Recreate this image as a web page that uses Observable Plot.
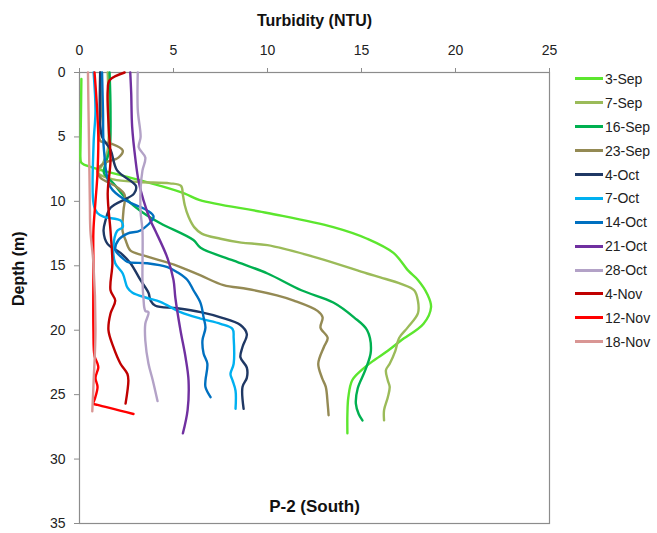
<!DOCTYPE html>
<html>
<head>
<meta charset="utf-8">
<script src="https://cdn.jsdelivr.net/npm/d3@7"></script>
<script src="https://cdn.jsdelivr.net/npm/@observablehq/plot@0.6"></script>
<style>
  html, body { margin: 0; padding: 0; background: #fff; }
  #wrap { position: relative; width: 657px; height: 533px; font-family: "Liberation Sans", Arial, sans-serif; }
  #legend { position: absolute; left: 575px; top: 67px; }
  .li { height: 23.9px; display: flex; align-items: center; font-size: 14px; color: #222; }
  .sw { width: 28px; height: 0; border-top: 3px solid; margin-right: 2px; }
</style>
</head>
<body>
<div id="wrap"><div id="legend"></div></div>
<script>
// Series names and colours
const seriesNames = ["3-Sep","7-Sep","16-Sep","23-Sep","4-Oct","7-Oct","14-Oct","21-Oct","28-Oct","4-Nov","12-Nov","18-Nov"];
const seriesColors = ["#5CE62E","#9BBB59","#00B050","#948A54","#1F3864","#00B0F0","#0070C0","#7030A0","#B3A2C7","#C00000","#FF0000","#D99694"];
const xTicks = [0,5,10,15,20,25];
const yTicks = [0,5,10,15,20,25,30,35];

// Profiles: [depth (m), turbidity (NTU)]
const sep3 = [[0.5,0.1],[3,0.08],[6,0.05],[6.6,0.05],[7.0,0.1],[7.4,0.75],[8.1,2.55],[8.8,4.3],[9.4,5.6],[9.9,6.4],[10.9,10.0],[12.0,13.5],[12.9,15.3],[14.0,16.7],[15.4,17.5],[16.1,18.0],[17.2,18.5],[18.2,18.7],[19.5,18.3],[20.8,17.1],[21.6,16.4],[22.4,15.6],[23.1,15.0],[23.9,14.5],[25.2,14.3],[26.5,14.25],[28.0,14.25]];
const sep7 = [[0,1.5],[3,1.55],[6,1.5],[7.2,1.2],[7.8,1.0],[8.3,1.8],[8.5,3.2],[8.6,4.8],[8.8,5.4],[9.5,5.5],[10.3,5.6],[11.2,5.8],[12.0,6.1],[12.5,6.5],[12.9,7.5],[13.2,8.6],[13.4,10.0],[14.4,12.7],[15.6,15.3],[15.9,16.0],[16.4,17.1],[16.9,17.8],[17.7,18.0],[18.7,18.0],[19.8,17.45],[20.6,17.0],[21.6,16.8],[22.6,16.5],[23.1,16.3],[23.9,16.4],[24.4,16.5],[25.2,16.4],[26.2,16.2],[27.0,16.2]];
const sep16 = [[0,1.6],[3,1.65],[6,1.6],[7.0,1.4],[7.8,1.3],[8.6,1.8],[9.9,2.55],[10.9,3.4],[11.7,4.3],[13.0,6.06],[13.6,6.44],[14.6,8.2],[15.6,10.0],[16.9,11.8],[17.85,13.5],[19.0,14.6],[20.0,15.3],[21.6,15.5],[23.1,15.2],[24.5,14.8],[25.7,14.7],[26.5,14.85],[27.0,15.05]];
const sep23 = [[0,1.1],[3,1.15],[5.3,1.1],[5.5,1.65],[6.05,2.3],[6.6,2.07],[7.06,1.28],[7.6,0.96],[8.15,1.1],[8.9,2.0],[9.5,2.4],[10.7,2.34],[12.3,2.29],[13.0,2.45],[13.8,2.7],[14.2,3.4],[15.0,5.2],[15.75,6.44],[16.5,7.66],[16.8,8.94],[17.3,10.5],[17.7,11.4],[18.5,12.66],[19.0,12.93],[19.8,12.82],[20.6,13.2],[21.3,13.0],[22.6,12.7],[23.7,12.9],[24.4,13.1],[25.7,13.2],[26.6,13.25]];
const oct4 = [[0,1.1],[4,1.1],[5.0,1.2],[6.0,1.65],[7.6,2.0],[8.8,3.0],[9.4,2.9],[10.5,1.65],[11.5,1.38],[12.3,1.28],[13.3,1.49],[14.0,2.18],[14.8,2.71],[16.1,3.24],[17.1,3.67],[17.7,3.78],[18.1,4.04],[18.3,5.2],[18.6,6.44],[19.0,7.5],[19.6,8.56],[20.3,8.9],[21.3,8.67],[22.1,8.56],[22.9,8.9],[23.7,8.9],[24.4,8.67],[26.1,8.73]];
const oct7 = [[0,0.75],[3,0.85],[5.5,0.75],[10.2,0.75],[10.9,0.95],[11.2,1.3],[11.5,2.2],[12.0,2.3],[12.3,2.0],[13.6,1.8],[14.8,1.9],[15.6,2.3],[16.7,2.55],[17.1,2.82],[17.5,3.6],[17.8,4.3],[18.6,5.37],[19.1,6.44],[19.5,7.5],[19.9,8.14],[20.6,8.2],[22.6,8.2],[23.4,8.03],[23.9,8.14],[24.7,8.3],[26.1,8.3]];
const oct14 = [[0,1.2],[3,1.25],[6,1.3],[8.9,1.65],[10.0,2.55],[10.7,3.6],[11.2,3.94],[12.26,3.24],[12.5,2.55],[13.0,2.07],[13.8,1.91],[14.4,2.29],[14.7,2.55],[14.8,3.6],[15.1,4.68],[15.5,5.2],[16.1,5.74],[16.9,6.06],[17.9,6.44],[19.0,6.6],[19.8,6.7],[20.8,6.54],[21.8,6.6],[22.6,6.8],[23.9,6.7],[24.4,6.7],[25.2,6.97]];
const oct21 = [[0,2.7],[1.6,2.75],[4.2,2.8],[6.8,2.98],[8.4,3.14],[9.9,3.4],[11.5,3.78],[12.3,4.04],[14.4,4.68],[16.1,5.0],[17.5,5.1],[20.0,5.37],[22.1,5.64],[23.9,5.8],[26.2,5.75],[28.0,5.5]];
const oct28 = [[0,3.1],[2.9,3.1],[5.0,3.25],[5.8,3.15],[6.6,3.5],[7.6,3.35],[9.0,3.25],[10.8,3.25],[12.3,3.35],[16.1,3.35],[17.5,3.4],[18.5,3.5],[18.6,3.67],[19.5,3.5],[20.8,3.5],[22.6,3.67],[23.9,3.9],[25.5,4.15]];
const nov4 = [[0,2.4],[0.6,1.6],[1.4,1.5],[4.2,1.55],[6.8,1.65],[9.4,1.5],[12.3,1.65],[14.8,1.75],[16.9,1.65],[17.7,1.9],[18.7,1.65],[20.0,1.54],[21.3,1.8],[22.6,2.18],[23.4,2.55],[23.9,2.6],[25.7,2.45]];
const nov12 = [[0,0.8],[2,0.9],[5,1.0],[8,0.95],[10,0.85],[12.3,0.74],[15,0.74],[20,0.74],[22.0,0.8],[22.6,0.96],[22.9,1.0],[23.7,0.85],[24.4,0.96],[25.4,0.8],[25.7,0.74],[25.8,0.96],[26.5,2.87]];
const nov18 = [[0,0.45],[5,0.5],[10,0.55],[12.3,0.58],[14.8,0.74],[20,0.85],[24,0.75],[26.3,0.68]];

const profiles = [sep3, sep7, sep16, sep23, oct4, oct7, oct14, oct21, oct28, nov4, nov12, nov18];
const rows = profiles.flatMap((p, i) => p.map(([d, v]) => ({series: seriesNames[i], depth: d, turb: v})));

const font = "'Liberation Sans', Arial, sans-serif";
const axisGray = "#8c8c8c";

const chart = Plot.plot({
  width: 657,
  height: 533,
  marginLeft: 79,
  marginRight: 108,
  marginTop: 72,
  marginBottom: 10,
  style: {fontFamily: font, fontSize: "14px", color: "#222", background: "#fff"},
  x: {domain: [0, 25]},
  y: {domain: [0, 35], reverse: true},
  color: {domain: seriesNames, range: seriesColors},
  marks: [
    Plot.frame({stroke: axisGray, strokeWidth: 1.2}),
    Plot.axisX({anchor: "top", ticks: xTicks, tickSize: 5, tickPadding: 13, stroke: axisGray, fill: "#222", label: null, fontSize: 14}),
    Plot.axisY({anchor: "left", ticks: yTicks, tickSize: 5, tickPadding: 9, stroke: axisGray, fill: "#222", label: null, fontSize: 14}),
    Plot.line(rows, {x: "turb", y: "depth", z: "series", stroke: "series", strokeWidth: 2.4, curve: "catmull-rom"}),
    Plot.text(["Turbidity (NTU)"], {frameAnchor: "top", dy: -58, text: d => d, fontWeight: "bold", fontSize: 16, fill: "#111"}),
    Plot.text(["Depth (m)"], {frameAnchor: "left", dx: -61, dy: 8, rotate: -90, text: d => d, fontWeight: "bold", fontSize: 16, fill: "#111"}),
    Plot.text(["P-2 (South)"], {frameAnchor: "bottom", dy: -12, text: d => d, fontWeight: "bold", fontSize: 17, fill: "#111"})
  ]
});
document.getElementById("wrap").prepend(chart);

const legend = document.getElementById("legend");
seriesNames.forEach((name, i) => {
  const row = document.createElement("div");
  row.className = "li";
  const sw = document.createElement("span");
  sw.className = "sw";
  sw.style.borderTopColor = seriesColors[i];
  const label = document.createElement("span");
  label.textContent = name;
  row.appendChild(sw);
  row.appendChild(label);
  legend.appendChild(row);
});
</script>
</body>
</html>
